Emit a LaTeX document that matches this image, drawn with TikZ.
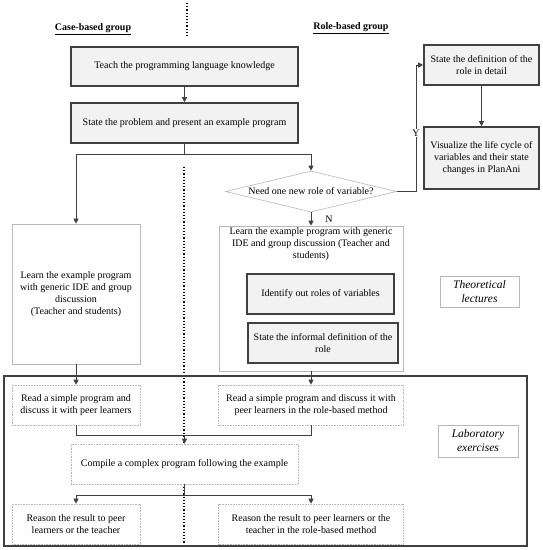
\documentclass[tikz,border=0pt]{standalone}
\usepackage{fontspec}
\setmainfont{Liberation Serif}
\usetikzlibrary{arrows.meta,shapes.geometric}
\definecolor{ln}{HTML}{404040}
\definecolor{boxfill}{HTML}{F2F2F2}
\definecolor{lite}{HTML}{B8B8B8}
\begin{document}
\begin{tikzpicture}[x=1pt,y=-1pt,
  every node/.style={font=\fontsize{10}{12}\selectfont, align=center, inner sep=0pt},
  graybox/.style={draw=ln, line width=1.6pt, fill=boxfill},
  plainbox/.style={draw=lite, line width=0.6pt, fill=white},
  dotbox/.style={draw=lite, line width=0.6pt, densely dotted, fill=white},
  labelbox/.style={draw=lite, line width=0.6pt, fill=white, font=\fontsize{11.5}{14}\selectfont\itshape},
  conn/.style={draw=ln, line width=1pt},
  arr/.style={conn, -{Triangle[length=5pt,width=5pt]}},
  sep/.style={draw=black, line width=1.2pt, dotted}
]
\useasboundingbox (0,0) rectangle (542,550);
% separators
\draw[sep] (187,3) -- (187,37);
\draw[sep] (184,167) -- (184,547);
% laboratory frame
\draw[draw=ln, line width=1.3pt] (4,376) rectangle (527,546);
% headers
\node (hcase) at (93,29) {\underline{\textbf{Case-based group}}};
\node (hrole) at (351,28) {\underline{\textbf{Role-based group}}};
% top boxes
\node[graybox, minimum width=227pt, minimum height=39pt] (b1) at (184.5,66.5) {Teach the programming language knowledge};
\node[graybox, minimum width=227pt, minimum height=40pt] (b2) at (184.5,123) {State the problem and present an example program};
% diamond
\node[diamond, aspect=4.2, draw=lite, line width=0.6pt, fill=white, minimum width=171pt, minimum height=41pt] (d) at (311,191.5) {Need one new role of variable?};
% right column boxes
\node[graybox, minimum width=115pt, minimum height=40pt] (def) at (481.5,65) {State the definition of the\\role in detail};
\node[graybox, minimum width=115pt, minimum height=62pt] (vis) at (481.5,158) {Visualize the life cycle of\\variables and their state\\changes in PlanAni};
% learn boxes
\node[plainbox, minimum width=128pt, minimum height=140pt] (llearn) at (76,294) {Learn the example program\\with generic IDE and group\\discussion\\(Teacher and students)};
\node[plainbox, minimum width=184pt, minimum height=145pt] (rlearn) at (311,298.5) {};
\node[anchor=north] (rlearntxt) at (311,227) {Learn the example program with generic\\IDE and group discussion (Teacher and\\students)};
\node[graybox, minimum width=147pt, minimum height=40pt] (ident) at (320.5,294) {Identify out roles of variables};
\node[graybox, minimum width=150pt, minimum height=40pt] (inf) at (323,343) {State the informal definition of the\\role};
% theory label
\node[labelbox, minimum width=79pt, minimum height=31pt] (theory) at (479.5,291.5) {Theoretical\\lectures};
% lab boxes
\node[dotbox, minimum width=128pt, minimum height=40pt] (lread) at (76,405) {Read a simple program and\\discuss it with peer learners};
\node[dotbox, minimum width=185pt, minimum height=40pt] (rread) at (311,405) {Read a simple program and discuss it with\\peer learners in the role-based method};
\node[dotbox, minimum width=227pt, minimum height=40pt] (comp) at (184.5,464) {Compile a complex program following the example};
\node[dotbox, minimum width=128pt, minimum height=40pt] (lreason) at (76,524) {Reason the result to peer\\learners or the teacher};
\node[dotbox, minimum width=185pt, minimum height=40pt] (rreason) at (311,524) {Reason the result to peer learners or the\\teacher in the role-based method};
\node[labelbox, minimum width=80pt, minimum height=32pt] (lab) at (478,441) {Laboratory\\exercises};
% connectors
\draw[arr] (b1.south) -- (b2.north);
\coordinate (s1) at (184.5,154);
\draw[conn] (b2.south) -- (s1);
\draw[arr] (s1) -| (llearn.north);
\draw[arr] (s1) -| (d.north);
\coordinate (yc) at (416,191.5);
\draw[arr] (d.east) -- (yc) |- (def.west);
\node[fill=white, inner sep=1pt] (ylab) at (416,133) {Y};
\draw[arr] (def.south) -- (vis.north);
\draw[arr] (d.south) -- (rlearn.north);
\node (nlab) at (329,219) {N};
\draw[arr] (llearn.south) -- (lread.north);
\draw[arr] (rlearn.south) -- (rread.north);
\coordinate (j1) at (76,435);
\coordinate (j2) at (311,435);
\coordinate (j3) at (184.5,435);
\draw[conn] (lread.south) -- (j1) -- (j2) -- (rread.south);
\draw[arr] (j3) -- (comp.north);
\coordinate (s2) at (184.5,495);
\draw[conn] (comp.south) -- (s2);
\draw[arr] (s2) -| (lreason.north);
\draw[arr] (s2) -| (rreason.north);
\end{tikzpicture}
\end{document}
